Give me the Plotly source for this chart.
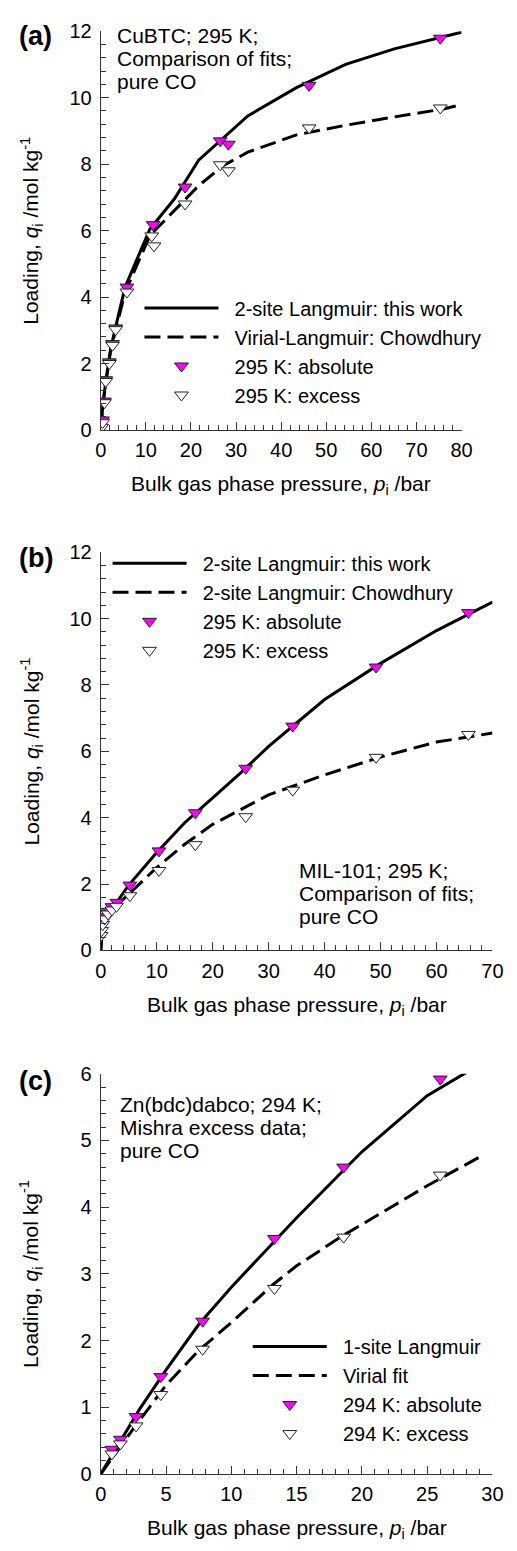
import plotly.graph_objects as go

# ---------------- Panel (a): CuBTC ----------------
a_fit1_p = [0, 0.2, 0.5, 1.1, 2.2, 3.3, 5.4, 10.9, 16.3, 21.7, 32.6, 43.4, 54.3, 65.1, 76.0, 80.0]
a_fit1_q = [0, 0.3, 0.8, 1.45, 2.45, 3.1, 4.3, 6.05, 6.95, 8.12, 9.45, 10.3, 11.0, 11.47, 11.85, 11.97]
a_fit2_p = [0, 0.2, 0.5, 1.1, 2.2, 3.3, 5.4, 10.9, 16.3, 21.7, 27.1, 32.6, 43.4, 54.3, 65.1, 76.0, 80.0]
a_fit2_q = [0, 0.3, 0.8, 1.42, 2.4, 3.0, 4.15, 5.85, 6.6, 7.35, 7.95, 8.36, 8.88, 9.17, 9.42, 9.66, 9.79]
a_abs_p = [0.4, 0.8, 1.1, 1.9, 2.6, 3.3, 5.8, 11.6, 18.7, 26.5, 28.3, 46.2, 75.3]
a_abs_q = [0.3, 0.87, 1.51, 2.05, 2.6, 3.07, 4.3, 6.18, 7.31, 8.7, 8.6, 10.37, 11.79]
a_exc_p = [0.2, 0.4, 0.8, 1.1, 1.9, 2.6, 3.3, 5.8, 11.3, 11.8, 18.7, 26.5, 28.3, 46.2, 75.3]
a_exc_q = [0.08, 0.22, 0.82, 1.46, 2.0, 2.55, 3.02, 4.15, 5.84, 5.54, 6.8, 7.98, 7.8, 9.09, 9.69]

# ---------------- Panel (b): MIL-101 ----------------
b_fit1_p = [0, 0.2, 0.5, 1, 2, 3, 5, 10, 15, 20, 25, 30, 40, 50, 60, 70]
b_fit1_q = [0, 0.55, 0.8, 1.0, 1.25, 1.5, 1.97, 2.95, 3.85, 4.6, 5.35, 6.15, 7.56, 8.65, 9.64, 10.5]
b_fit2_p = [0, 0.2, 0.5, 1, 2, 3, 5, 10, 15, 20, 30, 40, 50, 60, 70]
b_fit2_q = [0, 0.55, 0.78, 0.97, 1.2, 1.38, 1.7, 2.5, 3.2, 3.8, 4.69, 5.29, 5.83, 6.28, 6.55]
b_abs_p = [0.15, 0.6, 1.3, 2.0, 2.9, 5.2, 10.4, 16.9, 25.9, 34.3, 49.2, 65.7]
b_abs_q = [0.8, 1.02, 1.18, 1.32, 1.45, 1.97, 3.0, 4.15, 5.49, 6.76, 8.54, 10.18]
b_exc_p = [0.05, 0.15, 0.35, 0.7, 1.3, 2.0, 2.8, 5.2, 10.4, 16.9, 25.9, 34.3, 49.2, 65.7]
b_exc_q = [0.45, 0.6, 0.78, 0.95, 1.1, 1.22, 1.33, 1.65, 2.41, 3.19, 4.03, 4.83, 5.82, 6.51]

# ---------------- Panel (c): Zn(bdc)dabco ----------------
c_fit1_p = [0, 1, 2, 3, 5, 7.5, 10, 15, 20, 25, 28]
c_fit1_q = [0, 0.33, 0.66, 0.98, 1.56, 2.24, 2.8, 3.84, 4.83, 5.67, 6.02]
c_fit2_p = [0, 2.5, 5, 7.5, 10, 13.2, 15, 18.6, 20, 25, 29]
c_fit2_q = [0, 0.68, 1.33, 1.85, 2.27, 2.84, 3.12, 3.58, 3.74, 4.32, 4.75]
c_abs_p = [0.85, 1.5, 2.7, 4.6, 7.8, 13.3, 18.6, 26.0]
c_abs_q = [0.37, 0.52, 0.86, 1.46, 2.29, 3.53, 4.6, 5.92]
c_exc_p = [0.85, 1.5, 2.7, 4.6, 7.8, 13.3, 18.6, 26.0]
c_exc_q = [0.3, 0.45, 0.72, 1.19, 1.87, 2.78, 3.55, 4.48]

# legend / annotation texts
a_names = ["2-site Langmuir: this work", "Virial-Langmuir: Chowdhury", "295 K: absolute", "295 K: excess"]
b_names = ["2-site Langmuir: this work", "2-site Langmuir: Chowdhury", "295 K: absolute", "295 K: excess"]
c_names = ["1-site Langmuir", "Virial fit", "294 K: absolute", "294 K: excess"]
a_note = ["CuBTC; 295 K;", "Comparison of fits;", "pure CO"]
b_note = ["MIL-101; 295 K;", "Comparison of fits;", "pure CO"]
c_note = ["Zn(bdc)dabco; 294 K;", "Mishra excess data;", "pure CO"]

W, H = 517, 1551
FONT = "Liberation Sans, Arial, sans-serif"
MAGENTA = "#FF00FF"
GAP = "\u00a0\u00a0"


def fx(px):
    return px / W


def fy(py):
    return 1 - py / H


fig = go.Figure()

panels = [
    dict(ax="", leg="legend", data=(a_fit1_p, a_fit1_q, a_fit2_p, a_fit2_q, a_abs_p, a_abs_q, a_exc_p, a_exc_q), names=a_names),
    dict(ax="2", leg="legend2", data=(b_fit1_p, b_fit1_q, b_fit2_p, b_fit2_q, b_abs_p, b_abs_q, b_exc_p, b_exc_q), names=b_names),
    dict(ax="3", leg="legend3", data=(c_fit1_p, c_fit1_q, c_fit2_p, c_fit2_q, c_abs_p, c_abs_q, c_exc_p, c_exc_q), names=c_names),
]

for pnl in panels:
    f1p, f1q, f2p, f2q, ap, aq, ep, eq = pnl["data"]
    xa, ya = "x" + pnl["ax"], "y" + pnl["ax"]
    nm = pnl["names"]
    fig.add_trace(go.Scatter(x=f1p, y=f1q, mode="lines", name=GAP + nm[0], xaxis=xa, yaxis=ya,
                             line=dict(color="black", width=3), legend=pnl["leg"]))
    fig.add_trace(go.Scatter(x=f2p, y=f2q, mode="lines", name=GAP + nm[1], xaxis=xa, yaxis=ya,
                             line=dict(color="black", width=3, dash="16px,7px"), legend=pnl["leg"]))
    fig.add_trace(go.Scatter(x=ap, y=aq, mode="markers", name=GAP + nm[2], xaxis=xa, yaxis=ya,
                             marker=dict(symbol="triangle-down", size=12, color=MAGENTA,
                                         line=dict(color="#222", width=1)), legend=pnl["leg"]))
    fig.add_trace(go.Scatter(x=ep, y=eq, mode="markers", name=GAP + nm[3], xaxis=xa, yaxis=ya,
                             marker=dict(symbol="triangle-down", size=12, color="white",
                                         line=dict(color="#222", width=1)), legend=pnl["leg"]))

xdoms = [[fx(98), fx(471)], [fx(98), fx(503)], [fx(98), fx(503)]]
ydoms = [[fy(425), fy(20.5)], [fy(953), fy(549)], [fy(1484), fy(1078)]]
xranges = [[0, 80], [0, 70], [0, 30]]
yranges = [[0, 12], [0, 12], [0, 6]]
xdt = [10, 10, 5]
xmdt = [2, 2, 1]
ydt = [2, 2, 1]
ymdt = [0.4, 0.4, 0.2]

axis_common = dict(showline=True, linecolor="#333", linewidth=1.3, mirror=False,
                   ticks="inside", ticklen=8, tickwidth=1.3, tickcolor="#333",
                   showgrid=False, zeroline=False,
                   tickfont=dict(family=FONT, size=20, color="black"))

layout_axes = {}
for i in range(3):
    sfx = "" if i == 0 else str(i + 1)
    layout_axes["xaxis" + sfx] = dict(axis_common, domain=xdoms[i], range=xranges[i], dtick=xdt[i], tick0=0,
                                      anchor="y" + sfx, ticklabelstandoff=2,
                                      minor=dict(ticks="inside", ticklen=5, dtick=xmdt[i], tick0=0,
                                                 tickcolor="#333", tickwidth=1.1))
    layout_axes["yaxis" + sfx] = dict(axis_common, domain=ydoms[i], range=yranges[i], dtick=ydt[i], tick0=0,
                                      anchor="x" + sfx, ticklabelstandoff=4,
                                      minor=dict(ticks="inside", ticklen=5, dtick=ymdt[i], tick0=0,
                                                 tickcolor="#333", tickwidth=1.1))

annotations = []
# panel labels
for lab, yc in [("(a)", 25), ("(b)", 555), ("(c)", 1085)]:
    annotations.append(dict(text="<b>" + lab + "</b>", x=fx(31), y=fy(yc), xref="paper", yref="paper",
                            xanchor="center", yanchor="middle", showarrow=False,
                            font=dict(family=FONT, size=27, color="black")))
# axis titles
x_title_centres = [284.5, 300.5, 300.5]
for i, (top, bot) in enumerate([(20.5, 425), (549, 953), (1078, 1484)]):
    annotations.append(dict(text="Loading, <i>q</i><sub>i</sub> /mol kg<sup>-1</sup>", x=fx(26), y=fy((top + bot) / 2),
                            xref="paper", yref="paper", xanchor="center", yanchor="middle",
                            textangle=-90, showarrow=False, font=dict(family=FONT, size=21, color="black")))
    annotations.append(dict(text="Bulk gas phase pressure, <i>p</i><sub>i</sub> /bar", x=fx(x_title_centres[i]),
                            y=fy(bot + 56), xref="paper", yref="paper", xanchor="center", yanchor="middle",
                            showarrow=False, font=dict(family=FONT, size=21, color="black")))
# notes
for lines, x0, ys in [(a_note, 113, [25, 48.5, 72]), (b_note, 301, [871.7, 895.2, 918.5]),
                      (c_note, 116, [1109, 1132.5, 1155.5])]:
    for t, yy in zip(lines, ys):
        annotations.append(dict(text=t, x=fx(x0), y=fy(yy), xref="paper", yref="paper",
                                xanchor="left", yanchor="middle", showarrow=False,
                                font=dict(family=FONT, size=21, color="black")))

legend_common = dict(font=dict(family=FONT, size=20, color="black"), bgcolor="rgba(0,0,0,0)",
                     xanchor="left", yanchor="top", itemwidth=74, tracegroupgap=0, traceorder="normal")

fig.update_layout(
    width=W, height=H, margin=dict(l=0, r=0, t=0, b=0),
    paper_bgcolor="white", plot_bgcolor="white",
    showlegend=True,
    legend=dict(legend_common, x=fx(138), y=fy(281.5)),
    legend2=dict(legend_common, x=fx(105), y=fy(540.5)),
    legend3=dict(legend_common, x=fx(250), y=fy(1335)),
    annotations=annotations,
    **layout_axes,
)

fig.write_html(
    "out.html",
    post_script="document.documentElement.style.overflow='hidden';"
                "document.body.style.overflow='hidden';document.body.style.margin='0';",
)
